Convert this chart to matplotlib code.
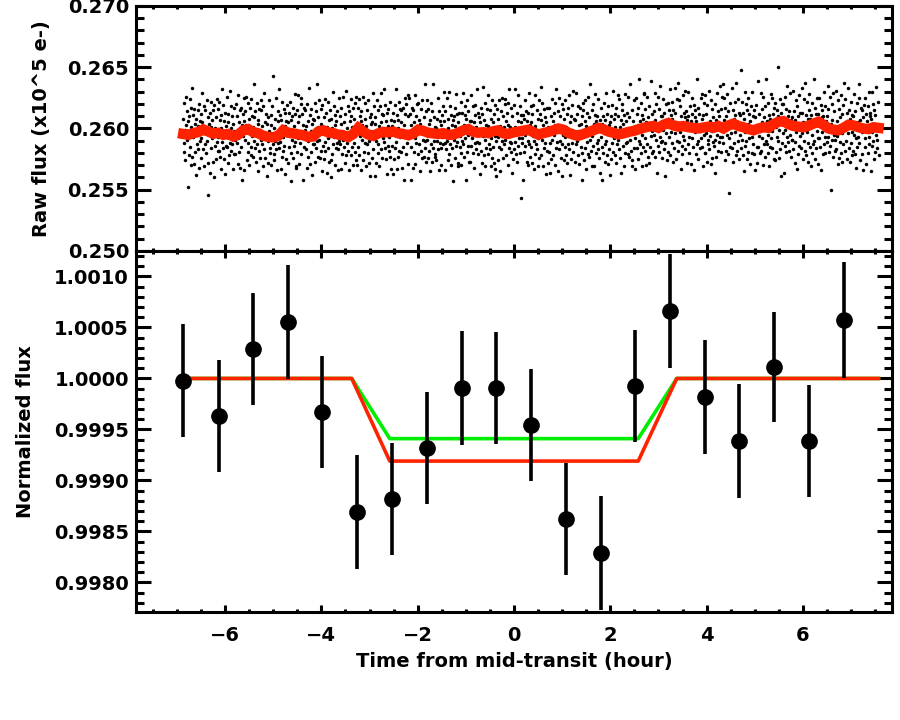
import numpy as np
import matplotlib
matplotlib.use("Agg")
import matplotlib.pyplot as plt
from matplotlib.ticker import MultipleLocator, FormatStrFormatter

# ---------------- data ----------------
raw_time_start, raw_time_end = -6.87, 7.57

raw_flux = [
    0.2608,0.2588,0.2621,0.2581,0.2599,0.2574,0.2626,0.2603,0.2591,0.2614,0.2552,0.2606,0.2594,0.2610,0.2578,0.2624,0.2585,0.2601,0.2617,0.2570,
    0.2577,0.2633,0.2593,0.2611,0.2571,0.2598,0.2616,0.2581,0.2604,0.2562,0.2608,0.2587,0.2595,0.2615,0.2583,0.2602,0.2568,0.2620,0.2590,0.2606,
    0.2592,0.2612,0.2576,0.2605,0.2629,0.2583,0.2596,0.2618,0.2569,0.2602,0.2587,0.2615,0.2580,0.2598,0.2623,0.2590,0.2572,0.2609,0.2546,0.2604,
    0.2596,0.2613,0.2564,0.2601,0.2584,0.2622,0.2592,0.2607,0.2573,0.2615,0.2594,0.2560,0.2619,0.2586,0.2600,0.2575,0.2609,0.2589,0.2624,0.2582,
    0.2616,0.2593,0.2582,0.2622,0.2577,0.2607,0.2600,0.2567,0.2611,0.2589,0.2632,0.2584,0.2619,0.2595,0.2575,0.2606,0.2613,0.2563,0.2602,0.2586,
    0.2626,0.2585,0.2605,0.2572,0.2612,0.2595,0.2578,0.2631,0.2588,0.2600,0.2582,0.2618,0.2587,0.2610,0.2567,0.2604,0.2617,0.2579,0.2598,0.2591,
    0.2579,0.2620,0.2597,0.2588,0.2610,0.2571,0.2627,0.2592,0.2605,0.2581,0.2615,0.2568,0.2599,0.2617,0.2585,0.2603,0.2558,0.2612,0.2594,0.2625,
    0.2606,0.2566,0.2614,0.2591,0.2603,0.2626,0.2574,0.2599,0.2581,0.2621,0.2588,0.2608,0.2570,0.2617,0.2601,0.2585,0.2624,0.2578,0.2610,0.2594,
    0.2601,0.2577,0.2609,0.2590,0.2636,0.2584,0.2614,0.2573,0.2598,0.2621,0.2587,0.2607,0.2565,0.2604,0.2582,0.2616,0.2596,0.2576,0.2623,0.2591,
    0.2615,0.2587,0.2602,0.2569,0.2618,0.2596,0.2583,0.2629,0.2605,0.2576,0.2612,0.2592,0.2604,0.2561,0.2609,0.2572,0.2590,0.2623,0.2598,0.2580,
    0.2584,0.2603,0.2570,0.2611,0.2593,0.2618,0.2587,0.2643,0.2579,0.2600,0.2574,0.2608,0.2590,0.2625,0.2583,0.2597,0.2566,0.2614,0.2588,0.2606,
    0.2584,0.2632,0.2589,0.2611,0.2567,0.2600,0.2607,0.2577,0.2622,0.2582,0.2593,0.2616,0.2586,0.2602,0.2563,0.2613,0.2606,0.2575,0.2595,0.2619,
    0.2605,0.2572,0.2599,0.2613,0.2585,0.2594,0.2622,0.2580,0.2607,0.2557,0.2610,0.2591,0.2617,0.2576,0.2602,0.2586,0.2628,0.2589,0.2612,0.2569,
    0.2568,0.2615,0.2581,0.2605,0.2592,0.2627,0.2571,0.2610,0.2588,0.2597,0.2620,0.2579,0.2625,0.2594,0.2612,0.2558,0.2603,0.2585,0.2617,0.2599,
    0.2595,0.2615,0.2583,0.2602,0.2568,0.2620,0.2590,0.2606,0.2577,0.2633,0.2593,0.2611,0.2571,0.2598,0.2616,0.2581,0.2604,0.2562,0.2608,0.2587,
    0.2607,0.2587,0.2621,0.2598,0.2573,0.2614,0.2584,0.2636,0.2590,0.2609,0.2577,0.2601,0.2591,0.2623,0.2576,0.2596,0.2616,0.2582,0.2604,0.2565,
    0.2619,0.2586,0.2600,0.2575,0.2609,0.2589,0.2624,0.2582,0.2596,0.2613,0.2564,0.2601,0.2584,0.2622,0.2592,0.2607,0.2573,0.2615,0.2594,0.2560,
    0.2608,0.2574,0.2600,0.2579,0.2630,0.2587,0.2618,0.2593,0.2611,0.2570,0.2603,0.2584,0.2606,0.2588,0.2614,0.2566,0.2597,0.2583,0.2625,0.2590,
    0.2587,0.2610,0.2567,0.2604,0.2617,0.2579,0.2598,0.2591,0.2626,0.2585,0.2605,0.2572,0.2612,0.2595,0.2578,0.2631,0.2588,0.2600,0.2582,0.2618,
    0.2591,0.2614,0.2566,0.2606,0.2594,0.2610,0.2578,0.2624,0.2585,0.2601,0.2617,0.2570,0.2608,0.2588,0.2621,0.2581,0.2599,0.2574,0.2626,0.2603,
    0.2570,0.2617,0.2601,0.2585,0.2624,0.2578,0.2610,0.2594,0.2606,0.2566,0.2614,0.2591,0.2603,0.2626,0.2574,0.2599,0.2581,0.2621,0.2588,0.2608,
    0.2569,0.2602,0.2587,0.2615,0.2580,0.2598,0.2623,0.2590,0.2572,0.2609,0.2561,0.2604,0.2592,0.2612,0.2576,0.2605,0.2629,0.2583,0.2596,0.2618,
    0.2604,0.2561,0.2609,0.2572,0.2590,0.2623,0.2598,0.2580,0.2615,0.2587,0.2602,0.2569,0.2618,0.2596,0.2583,0.2629,0.2605,0.2576,0.2612,0.2592,
    0.2611,0.2589,0.2632,0.2584,0.2619,0.2595,0.2575,0.2606,0.2613,0.2563,0.2602,0.2586,0.2616,0.2593,0.2582,0.2622,0.2577,0.2607,0.2600,0.2567,
    0.2586,0.2602,0.2563,0.2613,0.2606,0.2575,0.2595,0.2619,0.2584,0.2632,0.2589,0.2611,0.2567,0.2600,0.2607,0.2577,0.2622,0.2582,0.2593,0.2616,
    0.2605,0.2581,0.2615,0.2568,0.2599,0.2617,0.2585,0.2603,0.2558,0.2612,0.2594,0.2625,0.2579,0.2620,0.2597,0.2588,0.2610,0.2571,0.2627,0.2592,
    0.2625,0.2594,0.2612,0.2558,0.2603,0.2585,0.2617,0.2599,0.2568,0.2615,0.2581,0.2605,0.2592,0.2627,0.2571,0.2610,0.2588,0.2597,0.2620,0.2579,
    0.2598,0.2621,0.2587,0.2607,0.2565,0.2604,0.2582,0.2616,0.2596,0.2576,0.2623,0.2591,0.2601,0.2577,0.2609,0.2590,0.2636,0.2584,0.2614,0.2573,
    0.2591,0.2623,0.2576,0.2596,0.2616,0.2582,0.2604,0.2565,0.2607,0.2587,0.2621,0.2598,0.2573,0.2614,0.2584,0.2636,0.2590,0.2609,0.2577,0.2601,
    0.2579,0.2600,0.2574,0.2608,0.2590,0.2625,0.2583,0.2597,0.2566,0.2614,0.2588,0.2606,0.2584,0.2603,0.2570,0.2611,0.2593,0.2618,0.2587,0.2630,
    0.2606,0.2588,0.2614,0.2566,0.2597,0.2583,0.2625,0.2590,0.2608,0.2574,0.2600,0.2579,0.2630,0.2587,0.2618,0.2593,0.2611,0.2570,0.2603,0.2584,
    0.2607,0.2557,0.2610,0.2591,0.2617,0.2576,0.2602,0.2586,0.2628,0.2589,0.2612,0.2569,0.2605,0.2572,0.2599,0.2613,0.2585,0.2594,0.2622,0.2580,
    0.2570,0.2613,0.2590,0.2629,0.2587,0.2603,0.2577,0.2618,0.2592,0.2611,0.2558,0.2608,0.2581,0.2623,0.2595,0.2586,0.2614,0.2600,0.2573,0.2606,
    0.2573,0.2606,0.2586,0.2627,0.2592,0.2599,0.2580,0.2618,0.2605,0.2568,0.2611,0.2588,0.2619,0.2583,0.2601,0.2589,0.2632,0.2579,0.2596,0.2613,
    0.2588,0.2609,0.2563,0.2605,0.2582,0.2617,0.2599,0.2572,0.2612,0.2594,0.2634,0.2578,0.2607,0.2591,0.2621,0.2569,0.2603,0.2584,0.2616,0.2596,
    0.2602,0.2579,0.2627,0.2587,0.2599,0.2583,0.2615,0.2569,0.2608,0.2592,0.2576,0.2623,0.2585,0.2605,0.2572,0.2612,0.2594,0.2619,0.2567,0.2590,
    0.2561,0.2595,0.2616,0.2574,0.2608,0.2593,0.2623,0.2585,0.2602,0.2565,0.2614,0.2597,0.2583,0.2625,0.2590,0.2610,0.2576,0.2601,0.2587,0.2620,
    0.2624,0.2591,0.2606,0.2578,0.2613,0.2595,0.2570,0.2603,0.2621,0.2584,0.2632,0.2589,0.2601,0.2581,0.2617,0.2588,0.2564,0.2610,0.2597,0.2575,
    0.2619,0.2583,0.2601,0.2589,0.2632,0.2579,0.2596,0.2613,0.2573,0.2606,0.2586,0.2627,0.2592,0.2599,0.2580,0.2618,0.2605,0.2543,0.2611,0.2588,
    0.2592,0.2611,0.2558,0.2608,0.2581,0.2623,0.2595,0.2586,0.2614,0.2600,0.2573,0.2606,0.2570,0.2613,0.2590,0.2629,0.2587,0.2603,0.2577,0.2618,
    0.2585,0.2605,0.2572,0.2612,0.2594,0.2619,0.2567,0.2590,0.2602,0.2579,0.2627,0.2587,0.2599,0.2583,0.2615,0.2569,0.2608,0.2592,0.2576,0.2623,
    0.2612,0.2594,0.2634,0.2578,0.2607,0.2591,0.2621,0.2569,0.2603,0.2584,0.2616,0.2596,0.2588,0.2609,0.2563,0.2605,0.2582,0.2617,0.2599,0.2572,
    0.2601,0.2581,0.2617,0.2588,0.2564,0.2610,0.2597,0.2575,0.2624,0.2591,0.2606,0.2578,0.2613,0.2595,0.2570,0.2603,0.2621,0.2584,0.2632,0.2589,
    0.2602,0.2565,0.2614,0.2597,0.2583,0.2625,0.2590,0.2610,0.2576,0.2601,0.2587,0.2620,0.2561,0.2595,0.2616,0.2574,0.2608,0.2593,0.2623,0.2585,
    0.2578,0.2601,0.2612,0.2572,0.2617,0.2587,0.2594,0.2627,0.2583,0.2605,0.2562,0.2610,0.2575,0.2599,0.2619,0.2588,0.2581,0.2631,0.2592,0.2608,
    0.2596,0.2573,0.2607,0.2587,0.2629,0.2590,0.2612,0.2578,0.2598,0.2618,0.2571,0.2603,0.2593,0.2617,0.2585,0.2604,0.2558,0.2610,0.2580,0.2621,
    0.2615,0.2574,0.2597,0.2606,0.2584,0.2623,0.2567,0.2602,0.2589,0.2613,0.2579,0.2626,0.2595,0.2577,0.2609,0.2591,0.2636,0.2582,0.2600,0.2569,
    0.2615,0.2594,0.2620,0.2586,0.2604,0.2569,0.2611,0.2597,0.2628,0.2580,0.2606,0.2588,0.2610,0.2591,0.2624,0.2583,0.2601,0.2576,0.2607,0.2564,
    0.2593,0.2617,0.2585,0.2604,0.2558,0.2610,0.2580,0.2621,0.2596,0.2573,0.2607,0.2587,0.2629,0.2590,0.2612,0.2578,0.2598,0.2618,0.2571,0.2603,
    0.2583,0.2605,0.2562,0.2610,0.2575,0.2599,0.2619,0.2588,0.2581,0.2631,0.2592,0.2608,0.2578,0.2601,0.2612,0.2572,0.2617,0.2587,0.2594,0.2627,
    0.2610,0.2591,0.2624,0.2583,0.2601,0.2576,0.2607,0.2564,0.2615,0.2594,0.2620,0.2586,0.2604,0.2569,0.2611,0.2597,0.2628,0.2580,0.2606,0.2588,
    0.2589,0.2613,0.2579,0.2626,0.2595,0.2577,0.2609,0.2591,0.2636,0.2582,0.2600,0.2569,0.2615,0.2574,0.2597,0.2606,0.2584,0.2623,0.2567,0.2602,
    0.2592,0.2625,0.2598,0.2584,0.2612,0.2603,0.2575,0.2617,0.2590,0.2640,0.2587,0.2606,0.2580,0.2621,0.2595,0.2611,0.2569,0.2608,0.2585,0.2628,
    0.2629,0.2582,0.2616,0.2592,0.2605,0.2570,0.2626,0.2587,0.2609,0.2600,0.2577,0.2618,0.2572,0.2603,0.2585,0.2639,0.2594,0.2612,0.2580,0.2598,
    0.2602,0.2582,0.2614,0.2595,0.2629,0.2577,0.2607,0.2591,0.2620,0.2564,0.2604,0.2586,0.2626,0.2599,0.2581,0.2616,0.2593,0.2635,0.2589,0.2610,
    0.2590,0.2610,0.2576,0.2599,0.2624,0.2583,0.2613,0.2561,0.2607,0.2588,0.2620,0.2596,0.2606,0.2574,0.2621,0.2601,0.2581,0.2615,0.2593,0.2632,
    0.2578,0.2611,0.2597,0.2622,0.2588,0.2608,0.2573,0.2615,0.2601,0.2584,0.2633,0.2596,0.2613,0.2575,0.2605,0.2590,0.2624,0.2582,0.2603,0.2637,
    0.2589,0.2623,0.2597,0.2618,0.2567,0.2610,0.2579,0.2604,0.2586,0.2627,0.2594,0.2613,0.2591,0.2609,0.2583,0.2631,0.2600,0.2614,0.2572,0.2607,
    0.2610,0.2587,0.2630,0.2593,0.2580,0.2618,0.2599,0.2606,0.2571,0.2612,0.2592,0.2625,0.2585,0.2602,0.2619,0.2566,0.2609,0.2597,0.2615,0.2579,
    0.2606,0.2587,0.2640,0.2590,0.2617,0.2575,0.2603,0.2612,0.2584,0.2598,0.2625,0.2592,0.2628,0.2585,0.2608,0.2569,0.2611,0.2595,0.2621,0.2580,
    0.2627,0.2580,0.2596,0.2612,0.2573,0.2619,0.2587,0.2603,0.2591,0.2631,0.2583,0.2606,0.2594,0.2571,0.2623,0.2598,0.2616,0.2576,0.2609,0.2589,
    0.2586,0.2604,0.2564,0.2620,0.2591,0.2607,0.2577,0.2629,0.2595,0.2614,0.2582,0.2602,0.2610,0.2589,0.2635,0.2593,0.2616,0.2581,0.2599,0.2626,
    0.2593,0.2636,0.2588,0.2625,0.2607,0.2574,0.2599,0.2617,0.2582,0.2610,0.2595,0.2628,0.2579,0.2601,0.2614,0.2547,0.2592,0.2621,0.2585,0.2605,
    0.2596,0.2633,0.2584,0.2601,0.2615,0.2573,0.2608,0.2588,0.2622,0.2597,0.2611,0.2578,0.2637,0.2603,0.2582,0.2624,0.2590,0.2605,0.2575,0.2613,
    0.2611,0.2595,0.2648,0.2584,0.2591,0.2622,0.2602,0.2578,0.2613,0.2565,0.2608,0.2586,0.2630,0.2597,0.2590,0.2620,0.2575,0.2615,0.2604,0.2581,
    0.2625,0.2592,0.2612,0.2571,0.2606,0.2599,0.2618,0.2580,0.2593,0.2630,0.2587,0.2610,0.2579,0.2615,0.2597,0.2609,0.2566,0.2619,0.2602,0.2585,
    0.2572,0.2603,0.2585,0.2639,0.2594,0.2612,0.2580,0.2598,0.2629,0.2582,0.2616,0.2592,0.2605,0.2570,0.2626,0.2587,0.2609,0.2600,0.2577,0.2618,
    0.2590,0.2640,0.2587,0.2606,0.2580,0.2621,0.2595,0.2611,0.2569,0.2608,0.2585,0.2628,0.2592,0.2625,0.2598,0.2584,0.2612,0.2603,0.2575,0.2617,
    0.2606,0.2574,0.2621,0.2601,0.2581,0.2615,0.2593,0.2650,0.2590,0.2610,0.2576,0.2599,0.2624,0.2583,0.2613,0.2561,0.2607,0.2588,0.2620,0.2596,
    0.2620,0.2564,0.2604,0.2586,0.2626,0.2599,0.2581,0.2616,0.2593,0.2635,0.2589,0.2610,0.2602,0.2582,0.2614,0.2595,0.2629,0.2577,0.2607,0.2591,
    0.2591,0.2609,0.2583,0.2631,0.2600,0.2614,0.2572,0.2607,0.2589,0.2623,0.2597,0.2618,0.2567,0.2610,0.2579,0.2604,0.2586,0.2627,0.2594,0.2613,
    0.2601,0.2584,0.2633,0.2596,0.2613,0.2575,0.2605,0.2590,0.2624,0.2582,0.2603,0.2637,0.2578,0.2611,0.2597,0.2622,0.2588,0.2608,0.2573,0.2615,
    0.2628,0.2585,0.2608,0.2569,0.2611,0.2595,0.2621,0.2580,0.2606,0.2587,0.2640,0.2590,0.2617,0.2575,0.2603,0.2612,0.2584,0.2598,0.2625,0.2592,
    0.2571,0.2612,0.2592,0.2625,0.2585,0.2602,0.2619,0.2566,0.2609,0.2597,0.2615,0.2579,0.2610,0.2587,0.2630,0.2593,0.2580,0.2618,0.2599,0.2606,
    0.2610,0.2589,0.2635,0.2593,0.2616,0.2581,0.2599,0.2626,0.2586,0.2604,0.2550,0.2620,0.2591,0.2607,0.2577,0.2629,0.2595,0.2614,0.2582,0.2602,
    0.2591,0.2631,0.2583,0.2606,0.2594,0.2571,0.2623,0.2598,0.2616,0.2576,0.2609,0.2589,0.2627,0.2580,0.2596,0.2612,0.2573,0.2619,0.2587,0.2603,
    0.2637,0.2603,0.2582,0.2624,0.2590,0.2605,0.2575,0.2613,0.2596,0.2633,0.2584,0.2601,0.2615,0.2573,0.2608,0.2588,0.2622,0.2597,0.2611,0.2578,
    0.2582,0.2610,0.2595,0.2628,0.2579,0.2601,0.2614,0.2568,0.2592,0.2621,0.2585,0.2605,0.2593,0.2636,0.2588,0.2625,0.2607,0.2574,0.2599,0.2617,
    0.2579,0.2615,0.2597,0.2609,0.2566,0.2619,0.2602,0.2585,0.2625,0.2592,0.2612,0.2571,0.2606,0.2599,0.2618,0.2580,0.2593,0.2630,0.2587,0.2610,
    0.2613,0.2565,0.2608,0.2586,0.2630,0.2597,0.2590,0.2620,0.2575,0.2615,0.2604,0.2581,0.2611,0.2595,0.2634,0.2584,0.2591,0.2622,0.2602,0.2578,
]

smooth_flux = [
    0.25955,0.25948,0.25962,0.25970,0.25992,0.25975,0.25958,0.25965,0.25948,0.25955,
    0.25935,0.25950,0.25985,0.25995,0.25970,0.25962,0.25940,0.25932,0.25928,0.25940,
    0.25985,0.25965,0.25960,0.25952,0.25945,0.25930,0.25935,0.25975,0.25985,0.25968,
    0.25962,0.25950,0.25945,0.25930,0.25955,0.26005,0.25975,0.25950,0.25940,0.25960,
    0.25972,0.25968,0.25975,0.25960,0.25955,0.25945,0.25958,0.25990,0.25980,0.25965,
    0.25960,0.25955,0.25962,0.25948,0.25950,0.25965,0.25985,0.25995,0.25972,0.25965,
    0.25970,0.25962,0.25978,0.25985,0.25960,0.25955,0.25968,0.25975,0.25982,0.25990,
    0.25970,0.25950,0.25962,0.25972,0.25985,0.26000,0.25990,0.25965,0.25950,0.25940,
    0.25955,0.25970,0.25985,0.26005,0.25995,0.25975,0.25965,0.25952,0.25960,0.25972,
    0.25980,0.25992,0.26005,0.26015,0.26020,0.26005,0.26030,0.26045,0.26025,0.26015,
    0.26020,0.26010,0.26005,0.26000,0.26008,0.26015,0.26005,0.26020,0.26000,0.26025,
    0.26040,0.26020,0.26010,0.25995,0.25985,0.26000,0.26010,0.26005,0.26035,0.26055,
    0.26060,0.26035,0.26020,0.26015,0.26010,0.26022,0.26040,0.26055,0.26030,0.26000,
    0.25990,0.25985,0.26005,0.26030,0.26025,0.26010,0.26000,0.25995,0.26010,0.26005,
]

bin_time = [-6.87, -6.13, -5.41, -4.69, -3.98, -3.25, -2.53, -1.81, -1.09, -0.37,
            0.35, 1.08, 1.80, 2.52, 3.24, 3.96, 4.68, 5.40, 6.12, 6.85]
bin_flux = [0.99998, 0.99963, 1.00029, 1.00055, 0.99967, 0.99869, 0.99882, 0.99932, 0.99991, 0.99991,
            0.99954, 0.99862, 0.99829, 0.99993, 1.00066, 0.99982, 0.99939, 1.00011, 0.99939, 1.00057]
bin_err = [0.00055, 0.00055, 0.00055, 0.00056, 0.00055, 0.00056, 0.00055, 0.00055, 0.00056, 0.00055,
           0.00055, 0.00055, 0.00056, 0.00055, 0.00056, 0.00056, 0.00056, 0.00054, 0.00055, 0.00057]

model_time = [-6.87, -3.37, -2.58, 2.58, 3.38, 7.57]
model_green = [1.0, 1.0, 0.99941, 0.99941, 1.0, 1.0]
model_red = [1.0, 1.0, 0.99919, 0.99919, 1.0, 1.0]

# ---------------- figure ----------------
plt.rcParams['font.family'] = ['DejaVu Sans']
plt.rcParams['font.weight'] = 'bold'
plt.rcParams['axes.linewidth'] = 2.2

fig = plt.figure(figsize=(9, 7.2), dpi=100)
ax1 = fig.add_axes([0.1511, 0.6514, 0.840, 0.3403])
ax2 = fig.add_axes([0.1511, 0.1500, 0.840, 0.5014], sharex=ax1)

raw_time = np.linspace(raw_time_start, raw_time_end, len(raw_flux))
smooth_time = np.linspace(raw_time_start, raw_time_end, len(smooth_flux))

ax1.plot(raw_time, raw_flux, ls='none', marker='o', ms=2.5, mew=0, color='black', zorder=2)
ax1.plot(smooth_time, smooth_flux, color='#ff2200', lw=7.5, solid_joinstyle='miter', zorder=3)

ax2.plot(model_time, model_green, color='#00ee00', lw=2.6, zorder=2)
ax2.plot(model_time, model_red, color='#ff2200', lw=2.6, zorder=3)
ax2.errorbar(bin_time, bin_flux, yerr=bin_err, fmt='o', color='black', ms=11,
             elinewidth=2.6, capsize=0, zorder=4)

ax1.set_xlim(-7.85, 7.85)
ax1.set_ylim(0.250, 0.270)
ax2.set_ylim(0.99771, 1.00125)

for ax in (ax1, ax2):
    ax.xaxis.set_major_locator(MultipleLocator(2))
    ax.xaxis.set_minor_locator(MultipleLocator(0.5))
    ax.tick_params(which='both', direction='in', top=True, right=True, width=2.2,
                   labelsize=14)
    ax.tick_params(axis='x', which='major', length=5, pad=10)
    ax.tick_params(axis='x', which='minor', length=2.5)
    ax.tick_params(axis='y', which='major', length=11, pad=5)
    ax.tick_params(axis='y', which='minor', length=5.5)

ax1.yaxis.set_major_locator(MultipleLocator(0.005))
ax1.yaxis.set_minor_locator(MultipleLocator(0.001))
ax1.yaxis.set_major_formatter(FormatStrFormatter('%.3f'))
ax1.tick_params(labelbottom=False)

ax2.yaxis.set_major_locator(MultipleLocator(0.0005))
ax2.yaxis.set_minor_locator(MultipleLocator(0.0001))
ax2.yaxis.set_major_formatter(FormatStrFormatter('%.4f'))

ax1.set_ylabel('Raw flux (x10^5 e-)', fontsize=14, fontweight='bold')
ax1.yaxis.set_label_coords(-0.113, 0.5)
ax2.set_ylabel('Normalized flux', fontsize=14, fontweight='bold')
ax2.yaxis.set_label_coords(-0.133, 0.5)
ax2.set_xlabel('Time from mid-transit (hour)', fontsize=14, fontweight='bold', labelpad=5)

fig.savefig('out.png', dpi=100)
